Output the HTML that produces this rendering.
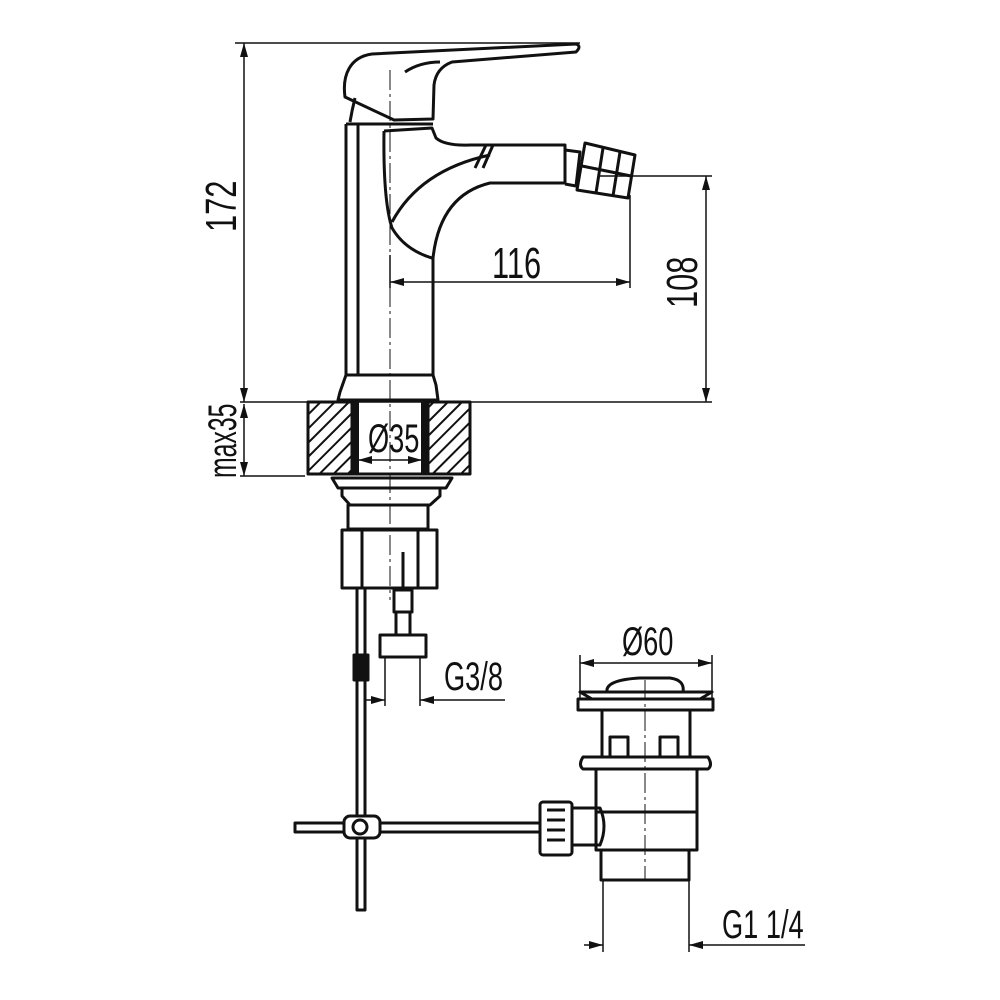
<!DOCTYPE html>
<html><head><meta charset="utf-8"><style>html,body{margin:0;padding:0;background:#fff}svg{display:block}
text{font-family:"Liberation Sans",sans-serif;font-size:44px;fill:#111}</style></head><body>
<svg width="1000" height="1000" viewBox="0 0 1000 1000" xmlns="http://www.w3.org/2000/svg">
<defs>
<pattern id="h" width="10" height="10" patternUnits="userSpaceOnUse" patternTransform="rotate(45)"><line x1="0" y1="0" x2="0" y2="10" stroke="#111" stroke-width="4"/></pattern>
<marker id="a" markerWidth="14" markerHeight="8" refX="14" refY="4" orient="auto" markerUnits="userSpaceOnUse"><path d="M0,0 L14,4 L0,8z" fill="#111"/></marker>
</defs>
<g fill="none" stroke="#111" stroke-width="1.5">
<line x1="235" y1="43" x2="580" y2="43"/>
<line x1="244" y1="220" x2="244" y2="43" marker-end="url(#a)"/>
<line x1="244" y1="220" x2="244" y2="402" marker-end="url(#a)"/>
<line x1="240" y1="402" x2="712" y2="402"/>
<line x1="244" y1="440" x2="244" y2="404" marker-end="url(#a)"/>
<line x1="244" y1="440" x2="244" y2="476" marker-end="url(#a)"/>
<line x1="240" y1="476" x2="305" y2="476"/>
<line x1="600" y1="176" x2="712" y2="176"/>
<line x1="706" y1="290" x2="706" y2="176" marker-end="url(#a)"/>
<line x1="706" y1="290" x2="706" y2="402" marker-end="url(#a)"/>
<line x1="630" y1="195" x2="630" y2="288"/>
<line x1="390" y1="255" x2="390" y2="288"/>
<line x1="500" y1="282" x2="390" y2="282" marker-end="url(#a)"/>
<line x1="500" y1="282" x2="630" y2="282" marker-end="url(#a)"/>
<line x1="390" y1="460" x2="358" y2="460" marker-end="url(#a)"/>
<line x1="390" y1="460" x2="422" y2="460" marker-end="url(#a)"/>
<line x1="385" y1="657" x2="385" y2="706"/><line x1="420" y1="657" x2="420" y2="706"/>
<line x1="366" y1="700" x2="385" y2="700" marker-end="url(#a)"/>
<line x1="505" y1="700" x2="420" y2="700" marker-end="url(#a)"/>
<line x1="580" y1="655" x2="580" y2="700"/><line x1="712" y1="655" x2="712" y2="700"/>
<line x1="646" y1="663" x2="580" y2="663" marker-end="url(#a)"/>
<line x1="646" y1="663" x2="712" y2="663" marker-end="url(#a)"/>
<line x1="603" y1="880" x2="603" y2="952"/><line x1="689" y1="880" x2="689" y2="952"/>
<line x1="584" y1="945" x2="603" y2="945" marker-end="url(#a)"/>
<line x1="805" y1="945" x2="689" y2="945" marker-end="url(#a)"/>
<line x1="390" y1="70" x2="390" y2="600" stroke-dasharray="20,4,3,4" stroke-width="1"/>
<line x1="645" y1="680" x2="645" y2="880" stroke-dasharray="20,4,3,4" stroke-width="1"/>
</g>
<g fill="none" stroke="#111" stroke-width="3" stroke-linejoin="round">
<path d="M345,97 C342,75 350,57 372,54 L576,44 Q582,46 576,52 L452,62 Q436,68 434,85 L433,119 L394,120 Z"/>
<path d="M405,72 Q420,62 440,62"/>
<path d="M355,98 Q352,110 350,122"/>
<path d="M346,124 L346,375 L340,392 L338,400 L438,400 L436,385 L433,375 L433,258"/>
<line x1="358" y1="124" x2="358" y2="375"/>
<line x1="346" y1="124" x2="433" y2="124"/>
<path d="M346,375 L433,375"/>
<path d="M384,131 L432,128 L436,138 Q445,146 470,145 L565,145 L565,183 L490,183 Q440,195 433,258"/>
<path d="M384,131 Q383,200 392,228 Q405,250 432,258"/>
<path d="M392,222 Q420,170 490,155"/>
<path d="M486,145 L475,168 M493,145 L483,168"/>
<path d="M585,143 L635,155 L628,198 L577,190 Z"/>
<path d="M603,148 L596,193 M620,152 L613,196 M582,166 L631,176"/>
<path d="M565,150 L580,152 L576,186 L565,184"/>
<rect x="308" y="402" width="44" height="72" fill="url(#h)"/>
<rect x="428" y="402" width="42" height="72" fill="url(#h)"/>
<line x1="308" y1="474" x2="470" y2="474"/>
<line x1="356" y1="402" x2="356" y2="474" stroke-width="6"/>
<line x1="424" y1="402" x2="424" y2="474" stroke-width="6"/>
<path d="M332,478 L452,478 L446,488 L338,488 Z"/>
<path d="M342,488 L342,496 L350,505 L430,505 L440,496 L440,488"/>
<rect x="348" y="505" width="80" height="24"/>
<rect x="342" y="530" width="95" height="58"/>
<line x1="362" y1="530" x2="362" y2="588"/><line x1="418" y1="530" x2="418" y2="588"/>
<line x1="403" y1="552" x2="403" y2="590"/>
<rect x="394" y="590" width="18" height="22"/>
<rect x="396" y="612" width="14" height="23"/>
<rect x="380" y="635" width="46" height="22"/>
<rect x="357" y="588" width="8" height="322"/>
<rect x="354" y="655" width="14" height="25" fill="#111"/>
<rect x="295" y="823" width="248" height="9"/>
<rect x="344" y="816" width="36" height="22" rx="6" fill="#fff"/>
<circle cx="360" cy="827" r="7"/>
<rect x="540" y="802" width="32" height="53" rx="3" fill="#fff"/>
<path d="M547,810 L565,810 M547,820 L565,820 M547,830 L565,830 M547,840 L565,840"/>
<path d="M572,808 L600,808 Q608,826 600,845 L572,845"/>
<path d="M607,692 Q605,680 640,678 L670,678 Q685,680 683,692"/>
<path d="M580,692 L712,692 L700,699 L592,699 Z"/>
<rect x="578" y="699" width="135" height="11"/>
<rect x="602" y="710" width="88" height="47"/>
<rect x="610" y="737" width="18" height="20"/><rect x="660" y="737" width="18" height="20"/>
<path d="M583,757 L708,757 Q713,765 708,769 L583,769 Q578,765 583,757Z"/>
<rect x="596" y="769" width="101" height="81"/>
<line x1="596" y1="812" x2="697" y2="812"/>
<rect x="601" y="850" width="88" height="30"/>
</g>
<g>
<text transform="translate(236,232) rotate(-90) scale(0.7,1)">172</text>
<text transform="translate(492,278) scale(0.7,1)">116</text>
<text transform="translate(697,308) rotate(-90) scale(0.7,1)">108</text>
<text transform="translate(236,478) rotate(-90) scale(0.62,1)" style="font-size:40px">max35</text>
<text transform="translate(368,452) scale(0.68,1)" style="font-size:40px">Ø35</text>
<text transform="translate(444,690) scale(0.68,1)" style="font-size:40px">G3/8</text>
<text transform="translate(622,655) scale(0.68,1)" style="font-size:40px">Ø60</text>
<text transform="translate(722,938) scale(0.68,1)" style="font-size:40px">G1 1/4</text>
</g>
</svg>
</body></html>
